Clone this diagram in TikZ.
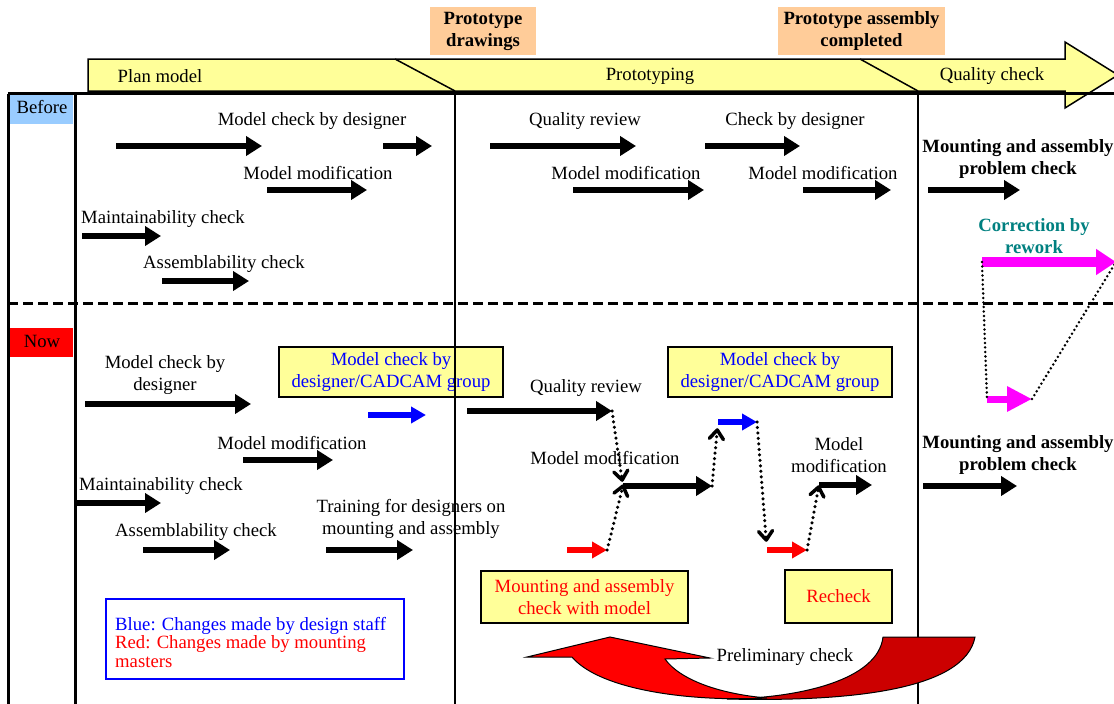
\documentclass[tikz,border=0pt]{standalone}
\usepackage{fontspec}
\setmainfont{Liberation Serif}
\usetikzlibrary{arrows.meta,calc}
\definecolor{hdryellow}{HTML}{FFFF99}
\definecolor{peach}{HTML}{FFCC99}
\definecolor{skyblue}{HTML}{99CCFF}
\definecolor{tealtxt}{HTML}{008080}
\definecolor{darkred2}{HTML}{CC0000}
\definecolor{magentab}{HTML}{FF00FF}
\definecolor{pureblue}{HTML}{0000FF}
\definecolor{purered}{HTML}{FF0000}
\begin{document}
\begin{tikzpicture}[x=1pt,y=-1pt,font=\fontsize{18.7}{22}\selectfont,
  txt/.style={inner sep=0pt,align=center},
  blk/.style={line width=6.5pt,-{Triangle[length=16pt,width=19pt]}},
  bluearr/.style={pureblue,line width=5.5pt,-{Triangle[length=15pt,width=16pt]}},
  redarr/.style={purered,line width=5.5pt,-{Triangle[length=15pt,width=16pt]}},
  magbig/.style={magentab,line width=10pt,-{Triangle[length=20pt,width=25pt]}},
  magsmall/.style={magentab,line width=7pt,-{Triangle[length=25pt,width=24pt]}},
  dotdash/.style={line width=3.5pt,line cap=round,dash pattern=on 0pt off 5.5pt},
  barbtip/.style={line width=3.5pt,line cap=round,line join=round},
  dotline/.style={line width=2.8pt,line cap=round,dash pattern=on 0pt off 4.5pt},
  ybox/.style={draw=black,line width=1.5pt,fill=hdryellow,inner sep=0pt,align=center},
  pbox/.style={fill=peach,inner sep=0pt,align=center,font=\fontsize{18.7}{22}\selectfont\bfseries},
  gridthick/.style={line width=3pt},
  gridthin/.style={line width=1.5pt}]
\useasboundingbox (0,0) rectangle (1114,704);
\clip (0,0) rectangle (1114,704);

% header arrow
\draw[line width=1.5pt,fill=hdryellow] (88,59) -- (1065,59) -- (1065,42) -- (1118,75) -- (1065,108) -- (1065,91) -- (88,91) -- cycle;
\draw[line width=1.5pt] (395,59) -- (455,91);
\draw[line width=1.5pt] (860,59) -- (918,91);
\node[txt] (hplan) at (160,76) {Plan model};
\node[txt] (hproto) at (650,76) {Prototyping};
\node[txt] (hqual) at (992,76) {Quality check};
\node[pbox,minimum width=106pt,minimum height=48pt] (pdraw) at (483,31) {Prototype\\drawings};
\node[pbox,minimum width=167pt,minimum height=48pt] (pasm) at (861.5,31) {Prototype assembly\\completed};

% row labels
\node[fill=skyblue,minimum width=63pt,minimum height=29pt,inner sep=0pt] (before) at (41.5,109.5) {};
\node[txt] (beforet) at (42,107) {Before};
\node[fill=purered,minimum width=63pt,minimum height=29pt,inner sep=0pt] (now) at (41.5,342.5) {};
\node[txt] (nowt) at (42,341) {Now};

% boxes under the grid
\node[ybox,minimum width=224pt,minimum height=50pt,text=pureblue] (cad1) at (391,372) {Model check by\\designer/CADCAM group};
\node[ybox,minimum width=224pt,minimum height=50pt,text=pureblue] (cad2) at (780,372) {Model check by\\designer/CADCAM group};
\node[ybox,minimum width=207pt,minimum height=52pt,text=purered] (mount) at (584.5,597) {Mounting and assembly\\check with model};
\node[ybox,minimum width=107pt,minimum height=53pt,text=purered] (recheck) at (838.5,596.5) {Recheck};
\node[draw=pureblue,line width=2pt,minimum width=298pt,minimum height=80pt,inner sep=0pt] (legend) at (255,639) {};
\node[anchor=west,inner sep=0pt,align=left,font=\fontsize{18.7}{18.5}\selectfont] (legendt) at (115,642.5)
  {\textcolor{pureblue}{Blue: Changes made by design staff}\\\textcolor{purered}{Red: Changes made by mounting}\\\textcolor{purered}{masters}};

% grid
\draw[gridthick] (8,93.5) -- (1114,93.5);
\draw[gridthick] (8,93.5) -- (8,704);
\draw[gridthick] (75,93.5) -- (75,704);
\draw[gridthin] (455,93.5) -- (455,704);
\draw[gridthin] (918,93.5) -- (918,704);
\draw[line width=3pt,dash pattern=on 10pt off 5pt] (8,303) -- (1114,303);

% texts: before
\node[txt] (tb1) at (312,121) {Model check by designer};
\node[txt] (tb2) at (318,173) {Model modification};
\node[txt] (tb3) at (163,219) {Maintainability check};
\node[txt] (tb4) at (224,264) {Assemblability check};
\node[txt] (tb5) at (585,121) {Quality review};
\node[txt] (tb6) at (795,121) {Check by designer};
\node[txt] (tb7) at (626,173) {Model modification};
\node[txt] (tb8) at (823,173) {Model modification};
\node[txt,font=\fontsize{18.7}{22}\selectfont\bfseries] (tb9) at (1018,159) {Mounting and assembly\\problem check};
\node[txt,text=tealtxt,font=\fontsize{18.7}{22}\selectfont\bfseries] (tb10) at (1034,236) {Correction by\\rework};

% texts: now
\node[txt] (tn1) at (165,375) {Model check by\\designer};
\node[txt] (tn2) at (292,443) {Model modification};
\node[txt] (tn3) at (161,486) {Maintainability check};
\node[txt] (tn4) at (196,532) {Assemblability check};
\node[txt] (tn5) at (411,519) {Training for designers on\\mounting and assembly};
\node[txt] (tn6) at (586,388) {Quality review};
\node[txt] (tn7) at (605,458) {Model modification};
\node[txt] (tn8) at (839,455) {Model\\modification};
\node[txt,font=\fontsize{18.7}{22}\selectfont\bfseries] (tn9) at (1018,455) {Mounting and assembly\\problem check};

% black arrows
\foreach \n/\xa/\xb/\y in {b1/116/262/146, b2/383/432/146, b3/267/367/190, b4/82/161/236, b5/162/249/281,
  b6/490/636/146, b7/705/800/146, b8/573/704/190, b9/803/891/190, b10/928/1020/190,
  n1/85/251/404, n2/243/333/460, n3/74/161/503, n4/143/230/550, n5/326/413/550,
  n6/467/612/411, n7/623/712/486, n8/819/872/485, n9/923/1017/486}
  {\coordinate (\n-s) at (\xa,\y); \coordinate (\n-e) at (\xb,\y); \draw[blk] (\n-s) -- (\n-e);}
\foreach \n/\xa/\xb/\y in {bl1/368/426/415, bl2/718/757/422}
  {\coordinate (\n-s) at (\xa,\y); \coordinate (\n-e) at (\xb,\y); \draw[bluearr] (\n-s) -- (\n-e);}
\foreach \n/\xa/\xb/\y in {r1/567/607/550, r2/767/807/550}
  {\coordinate (\n-s) at (\xa,\y); \coordinate (\n-e) at (\xb,\y); \draw[redarr] (\n-s) -- (\n-e);}
\coordinate (mg1-s) at (982,262); \coordinate (mg1-e) at (1116,262);
\coordinate (mg2-s) at (987,399); \coordinate (mg2-e) at (1032,399);
\draw[magbig] (mg1-s) -- (mg1-e);
\draw[magsmall] (mg2-s) -- (mg2-e);

% dotted connectors (dotted shaft + solid open chevron head)
\foreach \a/\b/\sh in {n6-e/n7-s/6, r1-e/n7-s/0, n7-e/bl2-s/8, bl2-e/r2-s/10, r2-e/n8-s/2}{
  \coordinate (tipend) at ($(\b)!\sh pt!(\a)$);
  \coordinate (tipback) at ($(tipend)!9pt!(\a)$);
  \draw[dotdash] (\a) -- (tipend);
  \draw[barbtip] ($(tipback)!7pt!90:(tipend)$) -- (tipend) -- ($(tipback)!7pt!-90:(tipend)$);
}
\draw[dotline] (mg1-s) -- (mg2-s);
\draw[dotline] (mg2-e) -- (mg1-e);

% curved U-turn arrow
\draw[line width=1pt,fill=darkred2] (883,637) -- (975,637) .. controls (965,690) and (850,702) .. (727,699)
  .. controls (800,698) and (878,680) .. (883,637) -- cycle;
\draw[line width=1pt,fill=purered] (572,657) .. controls (600,690) and (690,702) .. (767,698)
  .. controls (720,694) and (680,680) .. (665,659) -- (710,658) -- (610,637) -- (527,657) -- cycle;
\node[txt] (prelim) at (785,657) {Preliminary check};
\end{tikzpicture}
\end{document}
